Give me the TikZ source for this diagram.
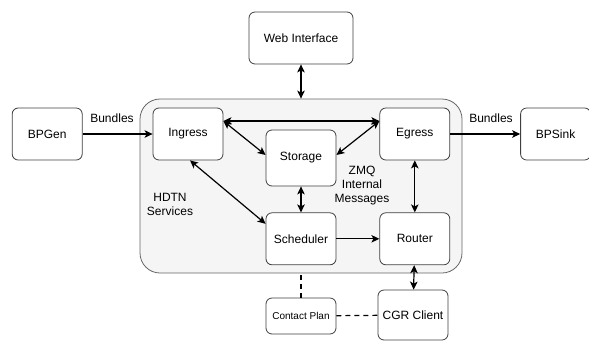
\documentclass[tikz,border=0pt]{standalone}
\usepackage{fontspec}
\setmainfont{Liberation Sans}
\usetikzlibrary{arrows.meta,positioning}
\tikzset{arrows={-{Stealth[length=8pt,width=7.5pt,inset=2pt]}}}
\tikzset{block/.style={draw=black!75, rounded corners=6pt, fill=white, inner sep=0pt,
    minimum width=70pt, minimum height=52pt, font=\fontsize{12}{14}\selectfont}}
\tikzset{both/.style={{Stealth[length=8pt,width=7.5pt,inset=2pt]}-{Stealth[length=8pt,width=7.5pt,inset=2pt]}}}
\tikzset{lbl/.style={font=\fontsize{12}{14}\selectfont, align=center}}

\begin{document}
\begin{tikzpicture}[x=1pt, y=-1pt, line width=1.2pt]
    \useasboundingbox (0,0) rectangle (589,341);
    \node[draw=black!60, fill=black!4, line width=0.8pt, rounded corners=20pt,
          minimum width=322pt, minimum height=174pt] (hdtn) at (301,186) {};

    \begin{scope}[line width=0.8pt]
      \node[block] (ingress) at (188,134) {Ingress};
      \node[block] (bpgen) [left = 70pt of ingress] {BPGen};
      \node[block] (egress) [right = 156pt of ingress] {Egress};
      \node[block] (bpsink) [right = 70pt of egress] {BPSink};
      \node[block, minimum height=56pt] (storage) at (301,158) {Storage};
      \node[block, minimum width=104pt] (web) at (301,38) {Web Interface};
      \node[block] (scheduler) [below = 26pt of storage] {Scheduler};
      \node[block] (router) [right = 43pt of scheduler] {Router};
      \node[block, minimum height=36pt, font=\fontsize{10}{12}\selectfont] (plan) at (301,316) {Contact Plan};
      \node[block, minimum height=50pt] (cgr) at (413,315) {CGR Client};
    \end{scope}

    \node[lbl] (bundlesin) at (112,118) {Bundles};
    \node[lbl] (bundlesout) at (491,118) {Bundles};
    \node[lbl] (services) at (170,204) {HDTN\\Services};
    \node[lbl, inner sep=0pt] (zmq) at (362,186) {ZMQ\\Internal\\Messages};

    \path (bpgen) edge (ingress)
          (egress) edge (bpsink)
          (scheduler) edge (router)
          ;
    \path[both] (web.south) edge (web.south |- hdtn.north)
          ([yshift=13pt]ingress.east) edge ([yshift=13pt]egress.west)
          ([yshift=13pt]ingress.east) edge ([yshift=3pt]storage.west)
          ([yshift=3pt]storage.east) edge ([yshift=13pt]egress.west)
          (storage) edge (scheduler)
          (egress) edge (router)
          ([xshift=2pt]ingress.south) edge ([yshift=15pt]scheduler.west)
          (router) edge (cgr)
          ;
    \draw[-, dash pattern=on 5pt off 4pt] (plan.north) -- (plan.north |- hdtn.south);
    \draw[-, dash pattern=on 5pt off 4pt] (plan) -- (cgr);
\end{tikzpicture}
\end{document}
